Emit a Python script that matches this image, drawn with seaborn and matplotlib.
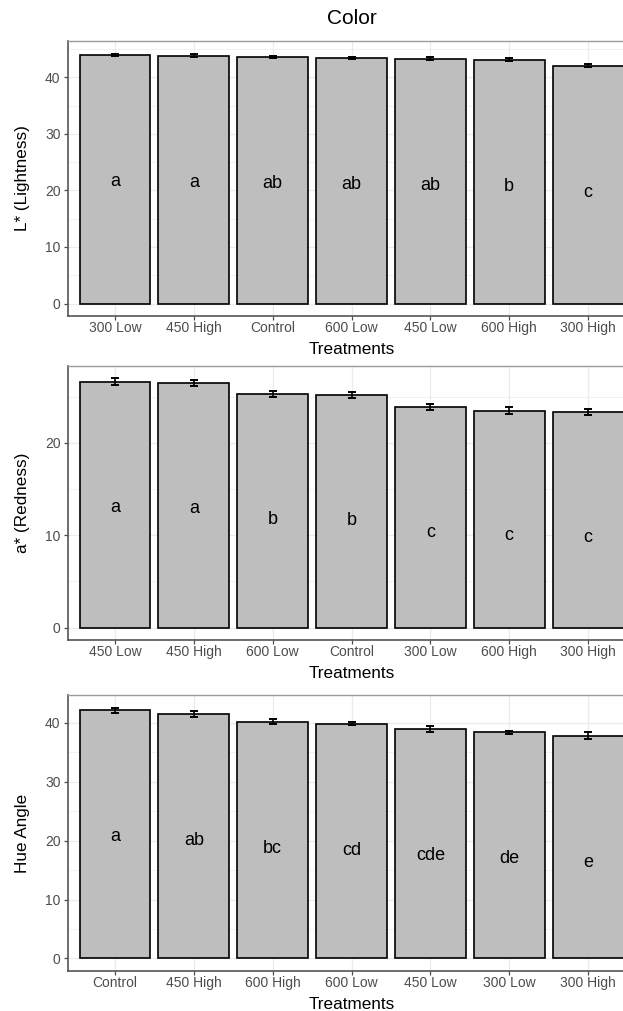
import numpy as np
import pandas as pd
import matplotlib
matplotlib.use("Agg")
import matplotlib.pyplot as plt
import seaborn as sns
from matplotlib.ticker import MultipleLocator

sns.set_theme(style="white")
plt.rcParams['font.family'] = ['Liberation Sans', 'DejaVu Sans']

# L* (Lightness)
l_cats = ["300 Low", "450 High", "Control", "600 Low", "450 Low", "600 High", "300 High"]
l_mean = [43.95, 43.83, 43.6, 43.43, 43.3, 43.07, 42.06]
l_se = [0.25, 0.25, 0.2, 0.2, 0.3, 0.25, 0.25]
l_letters = ["a", "a", "ab", "ab", "ab", "b", "c"]

# a* (Redness)
a_cats = ["450 Low", "450 High", "600 Low", "Control", "300 Low", "600 High", "300 High"]
a_mean = [26.6, 26.45, 25.3, 25.15, 23.85, 23.5, 23.35]
a_se = [0.37, 0.3, 0.33, 0.3, 0.33, 0.36, 0.35]
a_letters = ["a", "a", "b", "b", "c", "c", "c"]

# Hue angle
h_cats = ["Control", "450 High", "600 High", "600 Low", "450 Low", "300 Low", "300 High"]
h_mean = [42.08, 41.5, 40.2, 39.85, 38.98, 38.36, 37.8]
h_se = [0.5, 0.45, 0.45, 0.3, 0.5, 0.3, 0.55]
h_letters = ["a", "ab", "bc", "cd", "cde", "de", "e"]

panels = [
    (l_cats, l_mean, l_se, l_letters, "L* (Lightness)", 10),
    (a_cats, a_mean, a_se, a_letters, "a* (Redness)", 10),
    (h_cats, h_mean, h_se, h_letters, "Hue Angle", 10),
]

W, H = 623, 1011
fig = plt.figure(figsize=(W / 100, H / 100), dpi=100)

# axes boxes in pixels: (top, bottom)
boxes = [(41, 316), (366, 640), (695, 971)]
left_px, right_px = 67.7, 635.4

grid_col = "#EBEBEB"
tick_col = "#4D4D4D"

for (cats, mean, se, letters, ylab, step), (top, bot) in zip(panels, boxes):
    ax = fig.add_axes([left_px / W, 1 - bot / H, (right_px - left_px) / W, (bot - top) / H])
    df = pd.DataFrame({"trt": cats, "mean": mean, "se": se})
    sns.barplot(data=df, x="trt", y="mean", order=cats, color="#BEBEBE", saturation=1,
                edgecolor="black", linewidth=1.2, width=0.9, errorbar=None, ax=ax, zorder=2)
    xs = np.arange(len(cats))
    ax.errorbar(xs, df["mean"], yerr=df["se"], fmt="none", ecolor="black",
                elinewidth=1.2, capsize=2.9, capthick=1.4, zorder=3)
    lab_y = df["mean"] - 0.51 * df["mean"].max()
    for x, y, t in zip(xs, lab_y, letters):
        ax.text(x, y, t, ha="center", va="center", fontsize=13, color="black", zorder=4)

    ymax = (df["mean"] + df["se"]).max()
    ax.set_ylim(-0.05 * ymax, 1.05 * ymax)
    ax.set_xlim(-0.6, len(cats) - 0.4)
    ax.yaxis.set_major_locator(MultipleLocator(step))
    ax.yaxis.set_minor_locator(MultipleLocator(step / 2))
    ax.set_axisbelow(True)
    ax.grid(True, which="major", color=grid_col, linewidth=0.9)
    ax.grid(True, which="minor", axis="y", color=grid_col, linewidth=0.5)
    ax.tick_params(axis="both", which="major", length=3.2, width=0.9, color=tick_col,
                   labelcolor=tick_col, labelsize=10, direction="out",
                   bottom=True, left=True)
    ax.tick_params(axis="x", pad=0.5)
    ax.tick_params(axis="y", pad=2)
    ax.tick_params(axis="y", which="minor", length=0)
    for s in ["top", "right"]:
        ax.spines[s].set_color("#9A9A9A")
        ax.spines[s].set_linewidth(1.0)
    for s in ["left", "bottom"]:
        ax.spines[s].set_color("#555555")
        ax.spines[s].set_linewidth(1.2)
    ax.set_xlabel("Treatments", fontsize=12.3, color="black", labelpad=5)
    ax.set_ylabel(ylab, fontsize=12.3, color="black")
    ax.yaxis.set_label_coords(-0.066, 0.5)

fig.text((left_px + right_px) / 2 / W, 1 - 19 / H, "Color", ha="center", va="center",
         fontsize=15, color="black")

fig.savefig("out.png", dpi=100)
